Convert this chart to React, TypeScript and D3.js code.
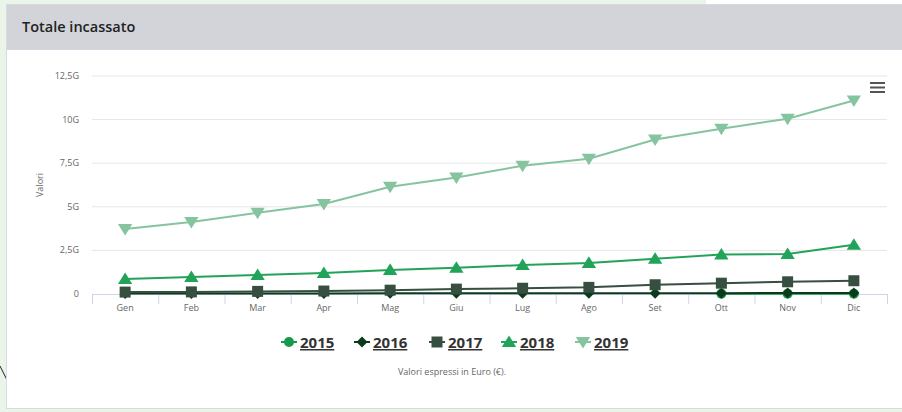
import React from "react";
import * as d3 from "d3";

const months = ["Gen", "Feb", "Mar", "Apr", "Mag", "Giu", "Lug", "Ago", "Set", "Ott", "Nov", "Dic"];
const yTicks = [0, 2.5, 5, 7.5, 10, 12.5];
const yTickLabels = ["0", "2,5G", "5G", "7,5G", "10G", "12,5G"];

const v2015: (number | null)[] = [null, null, null, null, null, null, null, null, null, 0.02, 0.02, 0.02];
const v2016: (number | null)[] = [0.03, 0.03, 0.03, 0.03, 0.04, 0.04, 0.04, 0.05, 0.05, 0.05, 0.06, 0.06];
const v2017: (number | null)[] = [0.11, 0.12, 0.15, 0.17, 0.22, 0.28, 0.33, 0.38, 0.53, 0.62, 0.7, 0.76];
const v2018: (number | null)[] = [0.86, 0.97, 1.09, 1.2, 1.38, 1.5, 1.66, 1.78, 2.02, 2.26, 2.29, 2.82];
const v2019: (number | null)[] = [3.73, 4.13, 4.66, 5.16, 6.15, 6.68, 7.36, 7.76, 8.86, 9.48, 10.05, 11.1];

const seriesNames = ["2015", "2016", "2017", "2018", "2019"];
const seriesColors = ["#16994a", "#0c3a1c", "#364f40", "#22a35a", "#86c49f"];
const seriesMarkers = ["circle", "diamond", "square", "triangle", "triangle-down"];
const seriesValues = [v2015, v2016, v2017, v2018, v2019];

const FONT = "'Open Sans', 'Noto Sans', sans-serif";

function markerPath(kind: string, r: number): string {
  switch (kind) {
    case "diamond":
      return `M0,${-r}L${r},0L0,${r}L${-r},0Z`;
    case "square":
      return `M${-r},${-r}H${r}V${r}H${-r}Z`;
    case "triangle":
      return `M0,${-r * 1.2}L${r * 1.3},${r * 0.9}L${-r * 1.3},${r * 0.9}Z`;
    case "triangle-down":
      return `M0,${r * 1.2}L${r * 1.3},${-r * 0.9}L${-r * 1.3},${-r * 0.9}Z`;
    default:
      return `M${-r},0A${r},${r} 0 1,0 ${r},0A${r},${r} 0 1,0 ${-r},0Z`;
  }
}

const markerSize = (kind: string) => (kind === "circle" ? 5 : kind === "diamond" ? 5.5 : 5.5);

export default function App() {
  const W = 902;
  const H = 412;
  const left = 92;
  const right = 887;
  const top = 76;
  const bottom = 294;

  const x = d3.scaleBand<string>().domain(months).range([left, right]).padding(0);
  const cx = (m: string) => (x(m) as number) + x.bandwidth() / 2;
  const y = d3.scaleLinear().domain([0, 12.5]).range([bottom, top]);

  const line = d3
    .line<number | null>()
    .defined((d) => d !== null)
    .x((_, i) => cx(months[i]))
    .y((d) => y(d as number));

  const boundaries = months.map((m) => x(m) as number).concat([right]);

  const legendX = [289, 362, 437, 509, 583];

  return (
    <div style={{ position: "fixed", left: 0, top: 0, width: W, height: H }}>
      <svg width={W} height={H} style={{ display: "block" }} fontFamily={FONT}>
        <rect x={0} y={0} width={W} height={H} fill="#eaf4e8" />
        <rect x={706} y={0} width={W - 706} height={4} fill="#ffffff" />
        <line x1={0} y1={366} x2={7} y2={380} stroke="#222" strokeWidth={1} />
        {/* card */}
        <rect x={6.5} y={4.5} width={W} height={404} fill="#ffffff" stroke="#d8dadd" strokeWidth={1} />
        <rect x={7} y={5} width={W} height={45} fill="#d2d4d9" />
        <text x={22} y={32} fontSize={14.5} fontWeight={600} fill="#222" fontFamily={FONT}>
          Totale incassato
        </text>

        {/* grid */}
        {yTicks.map((t, i) => (
          <g key={t}>
            {i > 0 && <line x1={left} x2={right} y1={y(t)} y2={y(t)} stroke="#e6e6e6" strokeWidth={1} />}
            <text x={79} y={y(t) + 3} textAnchor="end" fontSize={9} fill="#666">
              {yTickLabels[i]}
            </text>
          </g>
        ))}
        <text
          transform={`translate(43,${(top + bottom) / 2}) rotate(-90)`}
          textAnchor="middle"
          fontSize={9}
          fill="#666"
        >
          Valori
        </text>

        {/* x axis */}
        <line x1={left} x2={right} y1={bottom + 0.5} y2={bottom + 0.5} stroke="#ccd6eb" strokeWidth={1} />
        {boundaries.map((b, i) => (
          <line key={i} x1={b + 0.5} x2={b + 0.5} y1={bottom} y2={bottom + 10} stroke="#ccd6eb" strokeWidth={1} />
        ))}
        {months.map((m) => (
          <text key={m} x={cx(m)} y={bottom + 17} textAnchor="middle" fontSize={9} fill="#666">
            {m}
          </text>
        ))}

        {/* series */}
        {seriesValues.map((vals, si) => (
          <g key={seriesNames[si]}>
            <path d={line(vals) || ""} fill="none" stroke={seriesColors[si]} strokeWidth={2} />
            {vals.map((v, i) =>
              v === null ? null : (
                <path
                  key={i}
                  transform={`translate(${cx(months[i])},${y(v)})`}
                  d={markerPath(seriesMarkers[si], markerSize(seriesMarkers[si]))}
                  fill={seriesColors[si]}
                />
              )
            )}
          </g>
        ))}

        {/* menu icon */}
        {[0, 1, 2].map((k) => (
          <line key={k} x1={870} x2={885} y1={83 + k * 4.5} y2={83 + k * 4.5} stroke="#555" strokeWidth={2} />
        ))}

        {/* legend */}
        {seriesNames.map((n, si) => (
          <g key={n}>
            <line x1={legendX[si] - 8} x2={legendX[si] + 8} y1={342} y2={342} stroke={seriesColors[si]} strokeWidth={2} />
            <path
              transform={`translate(${legendX[si]},342)`}
              d={markerPath(seriesMarkers[si], markerSize(seriesMarkers[si]))}
              fill={seriesColors[si]}
            />
            <text
              x={legendX[si] + 11}
              y={348}
              fontSize={15}
              fontWeight={700}
              fill="#333"
              textDecoration="underline"
            >
              {n}
            </text>
          </g>
        ))}
        <text x={452} y={375} textAnchor="middle" fontSize={9} fill="#666">
          Valori espressi in Euro (€).
        </text>
      </svg>
    </div>
  );
}
